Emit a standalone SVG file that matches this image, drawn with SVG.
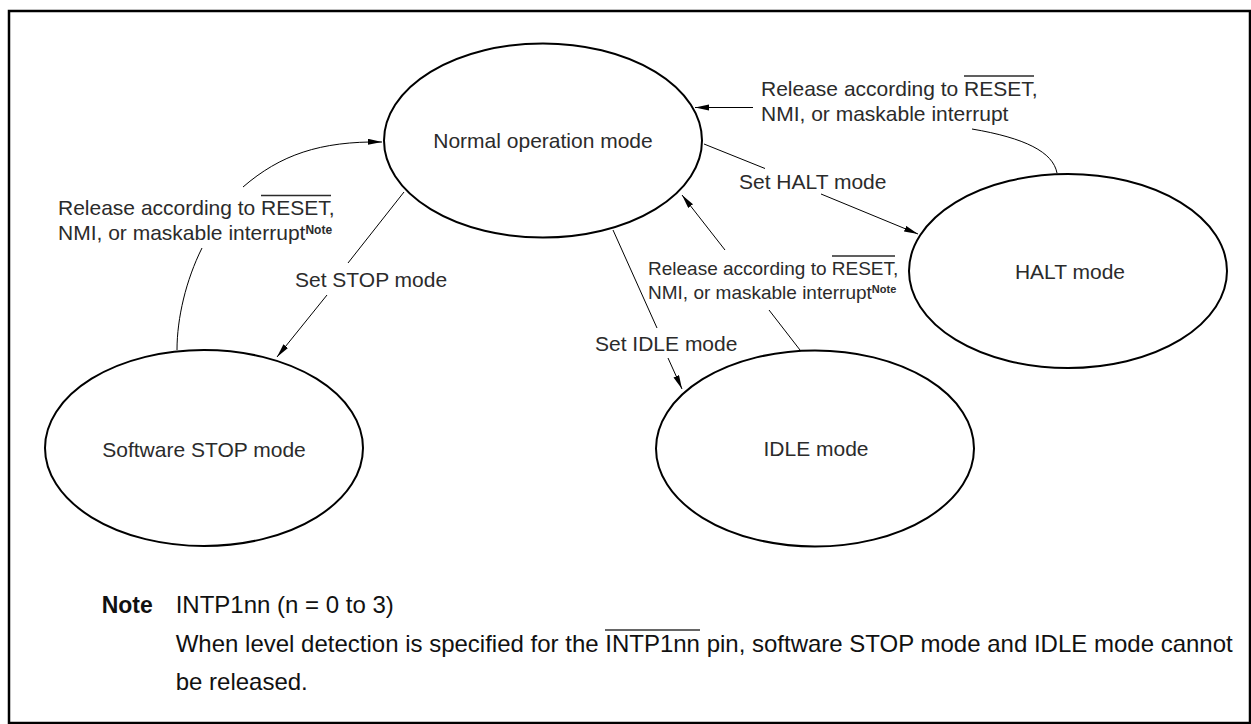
<svg xmlns="http://www.w3.org/2000/svg" width="1251" height="724" viewBox="0 0 1251 724">
  <style>
    .node ellipse { fill: #fff; stroke: #000; stroke-width: 2; }
    .nt { font-family: "Liberation Sans", Arial, sans-serif; font-size: 21px; fill: #2b2b2b; text-anchor: middle; }
    .lbl { font-family: "Liberation Sans", Arial, sans-serif; font-size: 21px; fill: #2b2b2b; }
    .lbl.sm { font-size: 19px; }
    .sup { font-weight: bold; font-size: 12px; }
    .conn path { fill: none; stroke: #000; stroke-width: 1; }
    .ovl { stroke: #2b2b2b; stroke-width: 1.3; }
    .note { font-family: "Liberation Sans", Arial, sans-serif; font-size: 24px; fill: #111; }
  </style>
  <defs>
    <marker id="arr" markerWidth="15" markerHeight="7" refX="14" refY="3" orient="auto" markerUnits="userSpaceOnUse">
      <path d="M0,0 L14,3 L0,6 z" fill="#000"/>
    </marker>
  </defs>
  <rect x="0" y="0" width="1251" height="724" fill="#fff"/>
  <rect x="9" y="11" width="1241" height="712" fill="none" stroke="#000" stroke-width="2.5"/>

  <g id="connectors" class="conn">
    <path d="M177,350 C177,318 186,280 202,248 M243,187 C280,155 320,141 382,142" marker-end="url(#arr)"/>
    <path d="M1057,173 C1053,152 1025,138 972,129 M753,107.5 L695,107.5" marker-end="url(#arr)"/>
    <path d="M704,144 L765,168.5 M821,194 L918,234" marker-end="url(#arr)"/>
    <path d="M404,192 L348,263 M327,295 L277,357" marker-end="url(#arr)"/>
    <path d="M613,230 L657,328 M668,358 L682,389" marker-end="url(#arr)"/>
    <path d="M800,350 L769,310 M725,250 L682,195" marker-end="url(#arr)"/>
  </g>

  <g id="normal" class="node">
    <ellipse cx="543" cy="140.5" rx="159" ry="97"/>
    <text class="nt" x="543" y="147.5">Normal operation mode</text>
  </g>
  <g id="stop" class="node">
    <ellipse cx="204" cy="448" rx="159" ry="98"/>
    <text class="nt" x="204" y="457">Software STOP mode</text>
  </g>
  <g id="idle" class="node">
    <ellipse cx="815" cy="448.5" rx="159" ry="98"/>
    <text class="nt" x="816" y="456">IDLE mode</text>
  </g>
  <g id="halt" class="node">
    <ellipse cx="1068" cy="271" rx="159" ry="97"/>
    <text class="nt" x="1070" y="279">HALT mode</text>
  </g>

  <g id="labels">
    <text class="lbl" x="58" y="215">Release according to RESET,</text>
    <text class="lbl" x="58" y="239.5">NMI, or maskable interrupt<tspan class="sup" dy="-6">Note</tspan></text>
    <line class="ovl" x1="261" y1="195.5" x2="331" y2="195.5"/>

    <text class="lbl" x="761" y="96">Release according to RESET,</text>
    <text class="lbl" x="761" y="120.5">NMI, or maskable interrupt</text>
    <line class="ovl" x1="964" y1="76" x2="1034" y2="76"/>

    <text class="lbl" x="739" y="189">Set HALT mode</text>
    <text class="lbl" x="295" y="287">Set STOP mode</text>
    <text class="lbl" x="595" y="351">Set IDLE mode</text>

    <text class="lbl sm" x="648" y="275">Release according to RESET,</text>
    <text class="lbl sm" x="648" y="299">NMI, or maskable interrupt<tspan class="sup" style="font-size:11px" dy="-6">Note</tspan></text>
    <line class="ovl" x1="832" y1="256" x2="895" y2="256"/>
  </g>

  <g id="note">
    <text class="note" x="101.7" y="613" style="font-weight:bold;font-size:23px">Note</text>
    <text class="note" x="175.7" y="613">INTP1nn (n = 0 to 3)</text>
    <text class="note" x="175.7" y="652">When level detection is specified for the INTP1nn pin, software STOP mode and IDLE mode cannot</text>
    <line x1="605" y1="630" x2="700" y2="630" stroke="#333" stroke-width="1.6"/>
    <text class="note" x="175.7" y="690">be released.</text>
  </g>
</svg>
